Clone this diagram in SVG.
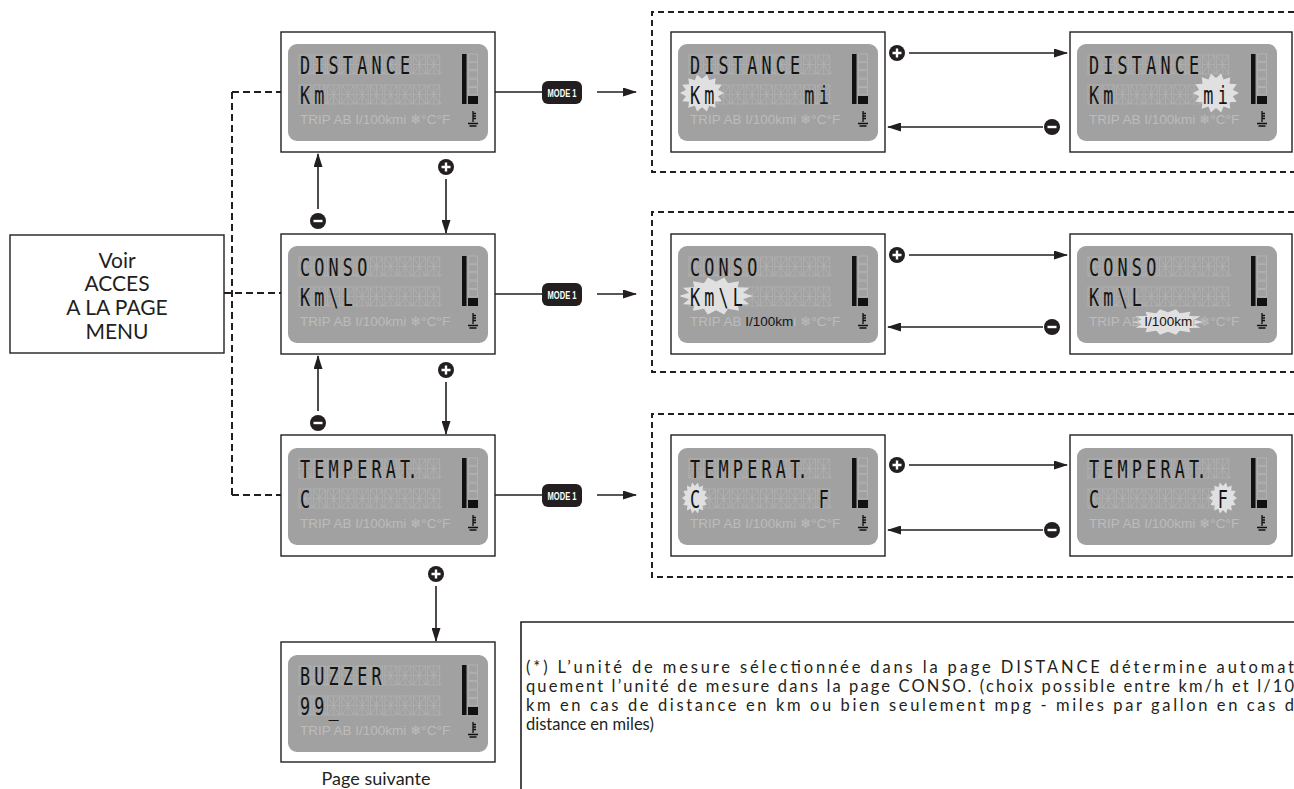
<svg xmlns="http://www.w3.org/2000/svg" width="1294" height="789" viewBox="0 0 1294 789">
<style>
.box{fill:#fff;stroke:#231f20;stroke-width:1.4}
.lcdbg{fill:#a1a1a1}
.seg{fill:none;stroke:#b0b0b0;stroke-width:0.9}
.ch{font-family:"DejaVu Sans Mono",monospace;font-size:21px;fill:#141414;text-anchor:middle}
.low{font-family:"Liberation Sans",Arial,sans-serif;font-size:13.5px;fill:#bcbcbc}
.dk{fill:#141414}
.burst{fill:#e0e0e0}
.dash{fill:none;stroke:#231f20;stroke-width:2;stroke-dasharray:7 4}
.gdash{fill:none;stroke:#231f20;stroke-width:2;stroke-dasharray:6 4}
.ln{fill:none;stroke:#231f20;stroke-width:1.6}
.lbl{font-family:Lato,"Open Sans",sans-serif;fill:#231f20}
.mode{font-family:"Liberation Sans",Arial,sans-serif;font-weight:bold;font-size:11px;fill:#fff;text-anchor:middle}
</style>
<defs>
<marker id="ah" markerWidth="14" markerHeight="9" refX="13" refY="4.5" orient="auto" markerUnits="userSpaceOnUse"><path d="M0,0 L14,4.5 L0,9 z" fill="#231f20"/></marker>
<g id="cell"><rect width="12" height="19" class="seg"/><path class="seg" d="M6,0V19M0,9.5H12M0,0L6,9.5L12,0M0,19L6,9.5L12,19"/><rect x="12.5" y="17.5" width="1.4" height="1.5" fill="#b0b0b0"/></g>
<g id="row">
<use href="#cell" x="0"/><use href="#cell" x="14.3"/><use href="#cell" x="28.6"/><use href="#cell" x="42.9"/><use href="#cell" x="57.2"/><use href="#cell" x="71.5"/><use href="#cell" x="85.8"/><use href="#cell" x="100.1"/><use href="#cell" x="114.4"/><use href="#cell" x="128.7"/>
</g>
<g id="lcd">
<rect class="lcdbg" width="200" height="97" rx="9"/>
<use href="#row" x="11" y="11"/>
<use href="#row" x="11" y="41"/>
<rect x="174" y="10" width="4.5" height="50" fill="#111"/>
<g fill="none" stroke="#b5b5b5" stroke-width="0.8">
<rect x="180.5" y="10" width="9" height="7.2"/><rect x="180.5" y="18.4" width="9" height="7.2"/><rect x="180.5" y="26.8" width="9" height="7.2"/><rect x="180.5" y="35.2" width="9" height="7.2"/><rect x="180.5" y="43.6" width="9" height="7.2"/>
</g>
<rect x="180" y="52" width="10" height="8" fill="#111"/>
<path d="M185,67V78M185,69.5H188M185,72H188M185,74.5H188M180,79.5H190M181.5,82H188.5" stroke="#111" stroke-width="1.3" fill="none"/>
</g>
<polygon id="burst" points="1,0 0.73,0.167 0.901,0.434 0.585,0.467 0.623,0.782 0.325,0.675 0.223,0.975 0,0.75 -0.223,0.975 -0.325,0.675 -0.623,0.782 -0.585,0.467 -0.901,0.434 -0.73,0.167 -1,0 -0.73,-0.167 -0.901,-0.434 -0.585,-0.467 -0.623,-0.782 -0.325,-0.675 -0.223,-0.975 0,-0.75 0.223,-0.975 0.325,-0.675 0.623,-0.782 0.585,-0.467 0.901,-0.434 0.73,-0.167"/>
<g id="plus"><circle r="8" fill="#231f20"/><path d="M-4.5,0H4.5M0,-4.5V4.5" stroke="#fff" stroke-width="2.4"/></g>
<g id="minus"><circle r="8" fill="#231f20"/><path d="M-4.5,0H4.5" stroke="#fff" stroke-width="2.4"/></g>
</defs>

<g id="connectors">
<path class="dash" d="M224,293H281M232,92V495M232,92H281M232,495H281"/>
<path class="gdash" d="M1294,12H652V172H1294M1294,212H652V372H1294M1294,414H652V577H1294"/>
<path class="ln" d="M495,92H542M495,294H542M495,495H542"/>
<g class="ln" marker-end="url(#ah)">
<path d="M597,92H636"/><path d="M597,294H636"/><path d="M597,495H636"/>
<path d="M909,53H1067"/><path d="M1043,127H888"/>
<path d="M909,255H1067"/><path d="M1043,327H888"/>
<path d="M909,465H1067"/><path d="M1043,530H888"/>
<path d="M318,209V154"/><path d="M446,179V233"/>
<path d="M318,411V356"/><path d="M446,382V434"/>
<path d="M436,586V641"/>
</g>
<g id="mode-buttons">
<rect x="542" y="81" width="40" height="23" rx="6" fill="#231f20"/><text class="mode" x="562" y="96.5" textLength="29" lengthAdjust="spacingAndGlyphs">MODE 1</text>
<rect x="542" y="283" width="40" height="23" rx="6" fill="#231f20"/><text class="mode" x="562" y="298.5" textLength="29" lengthAdjust="spacingAndGlyphs">MODE 1</text>
<rect x="542" y="484" width="40" height="23" rx="6" fill="#231f20"/><text class="mode" x="562" y="499.5" textLength="29" lengthAdjust="spacingAndGlyphs">MODE 1</text>
</g>
<use href="#plus" x="897" y="53"/><use href="#minus" x="1052" y="127"/>
<use href="#plus" x="897" y="255"/><use href="#minus" x="1052" y="327"/>
<use href="#plus" x="897" y="465"/><use href="#minus" x="1052" y="530"/>
<use href="#minus" x="318" y="221"/><use href="#plus" x="446" y="167"/>
<use href="#minus" x="318" y="423"/><use href="#plus" x="446" y="370"/>
<use href="#plus" x="436" y="574"/>
</g>

<g id="n-menu">
<rect class="box" x="10" y="235" width="214" height="118"/>
<text class="lbl" font-size="21" text-anchor="middle"><tspan x="117" y="268">Voir</tspan><tspan x="117" y="291">ACCES</tspan><tspan x="117" y="315">A LA PAGE</tspan><tspan x="117" y="339">MENU</tspan></text>
</g>

<g id="n-distance">
<rect class="box" x="281" y="32" width="214" height="120"/>
<g transform="translate(288,44)">
<use href="#lcd"/>
<g transform="scale(0.8,1.2)"><text class="ch" x="21.25 39.125 57 74.875 92.75 110.625 128.5 146.375" y="24.6">DISTANCE</text>
<text class="ch" x="21.25 39.125" y="49.6">Km</text></g>
<text class="low" x="12" y="80">TRIP AB I/100kmi <tspan font-family="DejaVu Sans">❄</tspan>°C°F</text>
</g>
</g>

<g id="n-distance-km">
<rect class="box" x="671" y="32" width="214" height="120"/>
<g transform="translate(678,44)">
<use href="#lcd"/>
<use href="#burst" class="burst" transform="translate(24,49) scale(22,19)"/>
<g transform="scale(0.8,1.2)"><text class="ch" x="21.25 39.125 57 74.875 92.75 110.625 128.5 146.375" y="24.6">DISTANCE</text>
<text class="ch" x="21.25 39.125 164.25 182.125" y="49.6">Kmmi</text></g>
<text class="low" x="12" y="80">TRIP AB I/100kmi <tspan font-family="DejaVu Sans">❄</tspan>°C°F</text>
</g>
</g>

<g id="n-distance-mi">
<rect class="box" x="1070" y="32" width="222" height="120"/>
<g transform="translate(1077,44)">
<use href="#lcd"/>
<use href="#burst" class="burst" transform="translate(139,49) scale(23,20)"/>
<g transform="scale(0.8,1.2)"><text class="ch" x="21.25 39.125 57 74.875 92.75 110.625 128.5 146.375" y="24.6">DISTANCE</text>
<text class="ch" x="21.25 39.125 164.25 182.125" y="49.6">Kmmi</text></g>
<text class="low" x="12" y="80">TRIP AB I/100kmi <tspan font-family="DejaVu Sans">❄</tspan>°C°F</text>
</g>
</g>

<g id="n-conso">
<rect class="box" x="281" y="234" width="214" height="120"/>
<g transform="translate(288,246)">
<use href="#lcd"/>
<g transform="scale(0.8,1.2)"><text class="ch" x="21.25 39.125 57 74.875 92.75" y="24.6">CONSO</text>
<text class="ch" x="21.25 39.125 57 74.875" y="49.6">Km\L</text></g>
<text class="low" x="12" y="80">TRIP AB I/100kmi <tspan font-family="DejaVu Sans">❄</tspan>°C°F</text>
</g>
</g>

<g id="n-conso-kml">
<rect class="box" x="671" y="234" width="214" height="120"/>
<g transform="translate(678,246)">
<use href="#lcd"/>
<use href="#burst" class="burst" transform="translate(38,50) scale(37,19)"/>
<g transform="scale(0.8,1.2)"><text class="ch" x="21.25 39.125 57 74.875 92.75" y="24.6">CONSO</text>
<text class="ch" x="21.25 39.125 57 74.875" y="49.6">Km\L</text></g>
<text class="low" x="12" y="80">TRIP AB <tspan class="dk">I/100km</tspan>i <tspan font-family="DejaVu Sans">❄</tspan>°C°F</text>
</g>
</g>

<g id="n-conso-l100">
<rect class="box" x="1070" y="234" width="222" height="120"/>
<g transform="translate(1077,246)">
<use href="#lcd"/>
<use href="#burst" class="burst" transform="translate(91,76) scale(36,13)"/>
<g transform="scale(0.8,1.2)"><text class="ch" x="21.25 39.125 57 74.875 92.75" y="24.6">CONSO</text>
<text class="ch" x="21.25 39.125 57 74.875" y="49.6">Km\L</text></g>
<text class="low" x="12" y="80">TRIP AB <tspan class="dk">I/100km</tspan>i <tspan font-family="DejaVu Sans">❄</tspan>°C°F</text>
</g>
</g>

<g id="n-temperat">
<rect class="box" x="281" y="435" width="214" height="121"/>
<g transform="translate(288,448)">
<use href="#lcd"/>
<g transform="scale(0.8,1.2)"><text class="ch" x="21.25 39.125 57 74.875 92.75 110.625 128.5 146.375 155.6" y="24.6">TEMPERAT.</text>
<text class="ch" x="21.25" y="49.6">C</text></g>
<text class="low" x="12" y="80">TRIP AB I/100kmi <tspan font-family="DejaVu Sans">❄</tspan>°C°F</text>
</g>
</g>

<g id="n-temperat-c">
<rect class="box" x="671" y="435" width="214" height="121"/>
<g transform="translate(678,448)">
<use href="#lcd"/>
<use href="#burst" class="burst" transform="translate(17,50) scale(13,16)"/>
<g transform="scale(0.8,1.2)"><text class="ch" x="21.25 39.125 57 74.875 92.75 110.625 128.5 146.375 155.6" y="24.6">TEMPERAT.</text>
<text class="ch" x="21.25 182.125" y="49.6">CF</text></g>
<text class="low" x="12" y="80">TRIP AB I/100kmi <tspan font-family="DejaVu Sans">❄</tspan>°C°F</text>
</g>
</g>

<g id="n-temperat-f">
<rect class="box" x="1070" y="435" width="222" height="121"/>
<g transform="translate(1077,448)">
<use href="#lcd"/>
<use href="#burst" class="burst" transform="translate(146,50) scale(14,16)"/>
<g transform="scale(0.8,1.2)"><text class="ch" x="21.25 39.125 57 74.875 92.75 110.625 128.5 146.375 155.6" y="24.6">TEMPERAT.</text>
<text class="ch" x="21.25 182.125" y="49.6">CF</text></g>
<text class="low" x="12" y="80">TRIP AB I/100kmi <tspan font-family="DejaVu Sans">❄</tspan>°C°F</text>
</g>
</g>

<g id="n-buzzer">
<rect class="box" x="281" y="642" width="214" height="120"/>
<g transform="translate(288,655)">
<use href="#lcd"/>
<g transform="scale(0.8,1.2)"><text class="ch" x="21.25 39.125 57 74.875 92.75 110.625" y="24.6">BUZZER</text>
<text class="ch" x="21.25 39.125 57" y="49.6">99_</text></g>
<text class="low" x="12" y="80">TRIP AB I/100kmi <tspan font-family="DejaVu Sans">❄</tspan>°C°F</text>
</g>
<text class="lbl" font-size="18" x="376" y="785" text-anchor="middle">Page suivante</text>
</g>

<g id="n-note">
<path class="ln" d="M521,789V622H1294"/>
<text class="lbl" font-size="16.5">
<tspan x="526" y="673" textLength="768">(*) L’unité de mesure sélectionnée dans la page DISTANCE détermine automat</tspan>
<tspan x="526" y="692" textLength="768">quement l’unité de mesure dans la page CONSO. (choix possible entre km/h et l/10</tspan>
<tspan x="526" y="711" textLength="768">km en cas de distance en km ou bien seulement mpg - miles par gallon en cas d</tspan>
<tspan x="526" y="730">distance en miles)</tspan>
</text>
</g>
</svg>
